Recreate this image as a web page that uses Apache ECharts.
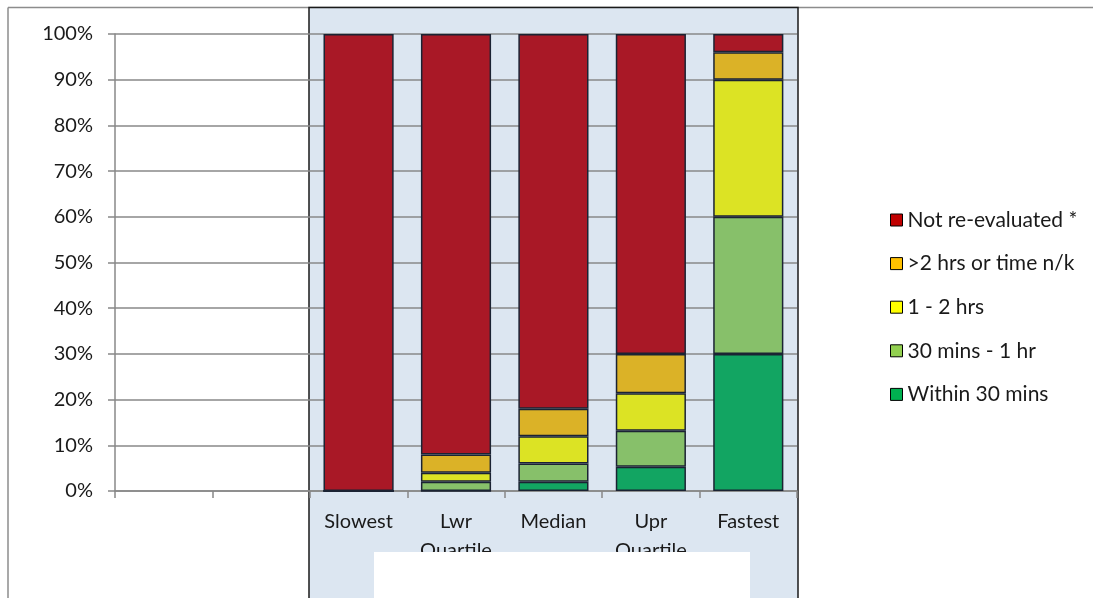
<!DOCTYPE html>
<html>
<head>
<meta charset="utf-8">
<script src="https://cdn.jsdelivr.net/npm/echarts@6/dist/echarts.min.js"></script>
<style>html,body{margin:0;padding:0;background:#fff}#c{width:1094px;height:598px}</style>
</head>
<body>
<div id="c"></div>
<script>
const categories = ['', ' ', 'Slowest', 'Lwr\nQuartile', 'Median', 'Upr\nQuartile', 'Fastest'];
const within30 = [null, null, 0, 0, 2, 5.3, 30];
const mins30to1hr = [null, null, 0, 2, 4, 7.9, 30];
const hrs1to2 = [null, null, 0, 2, 6, 8.2, 30];
const over2hrs = [null, null, 0, 4, 6, 8.6, 6];
const notReevaluated = [null, null, 100, 92, 82, 70, 4];
const seriesNames = ['Within 30 mins', '30 mins - 1 hr', '1 - 2 hrs', '>2 hrs or time n/k', 'Not re-evaluated *'];
const barColors = ['#12A562', '#87C06A', '#DCE324', '#DBB227', '#A91826'];
const legendColors = ['#00B050', '#92D050', '#FFFF00', '#FFC000', '#C00000'];
const yTicks = [0, 10, 20, 30, 40, 50, 60, 70, 80, 90, 100];

const FONT = 'Lato';
const values = [within30, mins30to1hr, hrs1to2, over2hrs, notReevaluated];
const chart = echarts.init(document.getElementById('c'));
const axisColor = '#888888';

chart.setOption({
  animation: false,
  textStyle: { fontFamily: FONT },
  grid: { left: 115, right: 297, top: 34, bottom: 107, containLabel: false },
  graphic: [
    { type: 'line', z: 0, shape: { x1: 8, y1: 7.5, x2: 1093, y2: 7.5 }, style: { stroke: '#8c8c8c', lineWidth: 1.5 } },
    { type: 'line', z: 0, shape: { x1: 8, y1: 7.5, x2: 8, y2: 600 }, style: { stroke: '#8c8c8c', lineWidth: 1.5 } },
    { type: 'rect', z: 0, shape: { x: 309, y: 7.5, width: 489, height: 600 }, style: { fill: '#DCE6F1', stroke: '#1a1a1a', lineWidth: 1.5 } },
    { type: 'rect', z: 20, shape: { x: 374, y: 552, width: 376, height: 60 }, style: { fill: '#ffffff' } }
  ],
  legend: {
    orient: 'vertical',
    left: 890,
    top: 209.5,
    padding: 0,
    itemWidth: 12,
    itemHeight: 12,
    itemGap: 22.6,
    icon: 'rect',
    textStyle: { fontFamily: FONT, fontSize: 21, color: '#1a1a1a', lineHeight: 20 },
    data: seriesNames.slice().reverse().map((n) => {
      const i = seriesNames.indexOf(n);
      return { name: n, itemStyle: { color: legendColors[i], borderColor: '#000', borderWidth: 1 } };
    })
  },
  xAxis: {
    type: 'category',
    data: categories,
    z: 1,
    axisLine: { show: true, lineStyle: { color: axisColor, width: 1.5 } },
    axisTick: { show: true, interval: 0, length: 7, lineStyle: { color: axisColor, width: 1.5 } },
    axisLabel: { interval: 0, margin: 16, fontFamily: FONT, fontSize: 20, lineHeight: 29, color: '#1a1a1a' },
    splitLine: { show: false }
  },
  yAxis: {
    type: 'value',
    min: yTicks[0],
    max: yTicks[yTicks.length - 1],
    interval: yTicks[1] - yTicks[0],
    z: 1,
    axisLine: { show: true, lineStyle: { color: axisColor, width: 1.5 } },
    axisTick: { show: true, length: 7, lineStyle: { color: axisColor, width: 1.5 } },
    axisLabel: { margin: 22, fontFamily: FONT, fontSize: 20, color: '#1a1a1a', formatter: '{value}%' },
    splitLine: { show: true, lineStyle: { color: axisColor, width: 1.5 } }
  },
  series: seriesNames.map((name, i) => ({
    name: name,
    type: 'bar',
    stack: 'total',
    z: 2,
    barWidth: '72%',
    data: values[i],
    itemStyle: { color: barColors[i], borderColor: '#1b2333', borderWidth: 1.5 }
  }))
});
</script>
</body>
</html>
